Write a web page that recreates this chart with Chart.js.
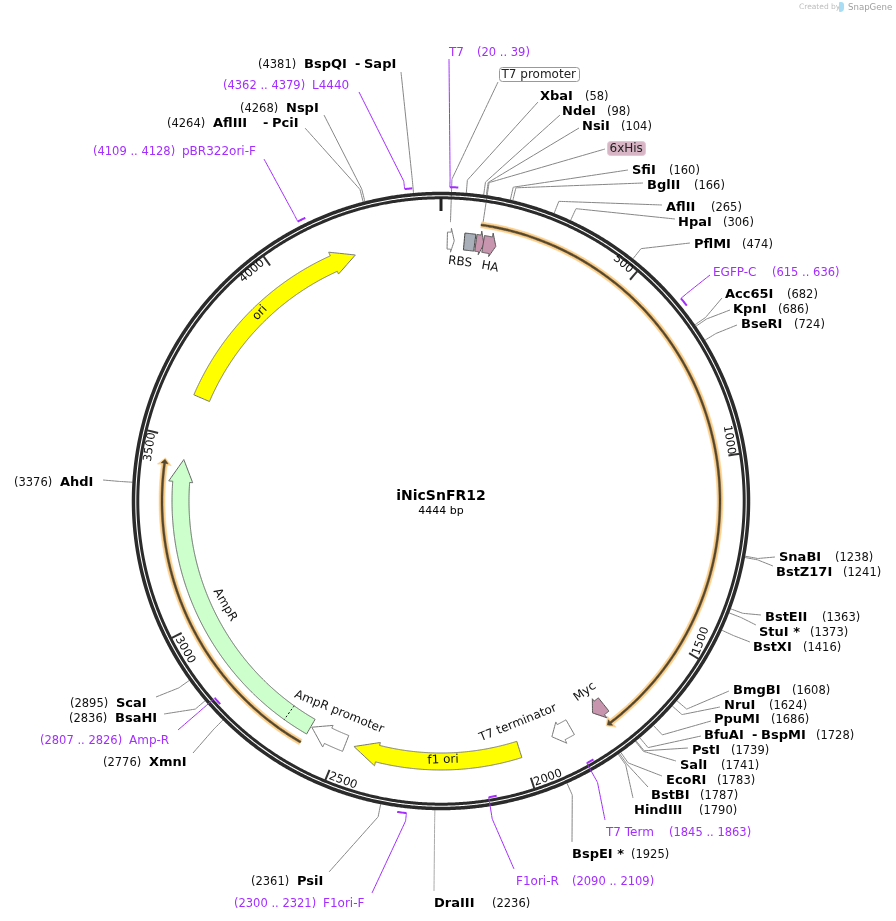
<!DOCTYPE html>
<html>
<head>
<meta charset="utf-8">
<title>iNicSnFR12</title>
<script src="https://cdn.jsdelivr.net/npm/chart.js@4"></script>
<style>
  html, body { margin: 0; background: #fff; }
  #wrap { position: relative; width: 896px; height: 921px; }
  #logo { position: absolute; left: 839px; top: 2px; width: 5px; height: 10px; background: #a9dcf5; border-radius: 1px 3px 4px 1px; }
</style>
</head>
<body>
<div id="wrap">
  <canvas id="map" width="896" height="921"></canvas>
  <div id="logo"></div>
</div>
<script>
// plasmid
const plasmidName = 'iNicSnFR12';
const plasmidLength = 4444;
const tickValues = [500, 1000, 1500, 2000, 2500, 3000, 3500, 4000];

// restriction sites
const siteNames = ['BspQI', 'NspI', 'AflIII', 'XbaI', 'NdeI', 'NsiI', 'SfiI', 'BglII', 'AflII', 'HpaI', 'PflMI',
  'Acc65I', 'KpnI', 'BseRI', 'SnaBI', 'BstZ17I', 'BstEII', 'StuI *', 'BstXI', 'BmgBI', 'NruI', 'PpuMI', 'BfuAI',
  'PstI', 'SalI', 'EcoRI', 'BstBI', 'HindIII', 'BspEI *', 'DraIII', 'PsiI', 'XmnI', 'BsaHI', 'ScaI', 'AhdI'];
const sitePositions = [4381, 4268, 4264, 58, 98, 104, 160, 166, 265, 306, 474,
  682, 686, 724, 1238, 1241, 1363, 1373, 1416, 1608, 1624, 1686, 1728,
  1739, 1741, 1783, 1787, 1790, 1925, 2236, 2361, 2776, 2836, 2895, 3376];

// primers
const primerNames = ['T7', 'EGFP-C', 'T7 Term', 'F1ori-R', 'F1ori-F', 'Amp-R', 'pBR322ori-F', 'L4440'];
const primerStarts = [20, 615, 1845, 2090, 2300, 2807, 4109, 4362];
const primerEnds = [39, 636, 1863, 2109, 2321, 2826, 4128, 4379];
const primerReverse = [false, false, true, true, false, true, false, false];

// features (all run clockwise)
const featureNames = ['RBS', 'lac', '6xHis', 'HA', 'Myc', 'T7 terminator', 'f1 ori', 'AmpR promoter', 'AmpR', 'ori'];
const featureStarts = [17, 63, 95, 115, 1745, 1855, 2006, 2487, 2592, 3620];
const featureHeads = [27, 92, 106, 136, 1760, 1883, 2396, 2539, 3385, 4144];
const featureEnds = [36, 92, 117, 150, 1783, 1911, 2463, 2589, 3446, 4207];
const ampSignalEnd = 2662;

// open reading frames
const orfStarts = [102, 2595];
const orfEnds = [1774, 3443];

// layout, in page pixels
const cx = 441, cy = 501;
const featureFills = ['#ffffff', '#a9afb8', '#c795ad', '#c795ad', '#c795ad', '#ffffff', '#ffff00', '#ffffff', '#ccffcc', '#ffff00'];
const featureEdges = ['#777', '#444', '#555', '#555', '#555', '#777', '#777', '#777', '#666', '#777'];

const siteNameX = [304, 286, 213, 540, 562, 582, 632, 647, 666, 678, 694, 725, 733, 741, 779, 776, 765, 759, 753, 733, 724, 714, 704, 692, 680, 666, 651, 634, 572, 434, 297, 149, 115, 116, 60];
const siteNameY = [64, 108, 123, 96, 111, 126, 170, 185, 207, 222, 244, 294, 309, 324, 557, 572, 617, 632, 647, 690, 705, 719, 735, 750, 765, 780, 795, 810, 854, 903, 881, 762, 718, 703, 482];
const siteNumberX = [258, 240, 167, 585, 607, 621, 669, 694, 711, 723, 742, 787, 778, 794, 835, 843, 822, 810, 803, 792, 769, 771, 816, 731, 721, 717, 700, 699, 631, 492, 251, 103, 69, 70, 14];
const leaderEndX = [401, 324, 305, 538, 560, 579, 628, 643, 662, 675, 690, 722, 730, 737, 775, 773, 761, 756, 750, 729, 720, 711, 701, 688, 676, 662, 648, 633, 572, 434, 329, 193, 164, 156, 103];
const leaderEndY = [72, 115, 128, 102, 115, 128, 170, 183, 205, 219, 243, 298, 310, 325, 557, 566, 615, 625, 642, 691, 707, 721, 736, 748, 761, 776, 787, 798, 842, 891, 872, 753, 714, 697, 480];

const primerNameX = [449, 713, 606, 516, 323, 129, 182, 312];
const primerNameY = [52, 272, 832, 881, 903, 740, 151, 85];
const primerRangeX = [477, 772, 669, 572, 234, 40, 93, 223];
const primerEndX = [449, 710, 605, 514, 372, 178, 264, 359];
const primerEndY = [59, 275, 820, 869, 893, 730, 159, 92];

const PURPLE = '#a32eff', GREY = '#868686', RING = '#2b2b2b';

// bp on the circle -> data coordinates
function polar(bp, r) {
  const a = bp / plasmidLength * 2 * Math.PI;
  return { x: cx + r * Math.sin(a), y: cy - r * Math.cos(a) };
}

function arc(from, to, r) {
  const pts = [];
  const dir = to >= from ? 1 : -1;
  for (let bp = from; dir * (to - bp) > 0; bp += dir * 6) pts.push(polar(bp, r));
  pts.push(polar(to, r));
  return pts;
}

// arrow outline: shaft between rIn..rOut, head between headIn..headOut
function arrowShape(start, head, end, rIn, rOut, headIn, headOut) {
  const mid = (rIn + rOut) / 2;
  const pts = arc(start, head, rOut);
  if (end > head) {
    pts.push(polar(head, headOut), polar(end, mid), polar(head, headIn));
  }
  pts.push(...arc(head, start, rIn));
  pts.push(pts[0]);
  return pts;
}

// tiny tension keeps chart.js off its fast path, which flattens near-vertical runs
function lineSet(data, color, width, extra) {
  return Object.assign({ data, showLine: true, fill: false, borderColor: color, borderWidth: width, pointRadius: 0, tension: 0.0001, clip: false }, extra || {});
}

function shapeSet(data, fillColor, edge, width) {
  return lineSet(data, edge, width, { fill: 'shape', backgroundColor: fillColor });
}

const paint = [];   // datasets in painting order, reversed below

// leaders
siteNames.forEach((n, i) => {
  paint.push(lineSet([polar(sitePositions[i], 309), polar(sitePositions[i], 322), { x: leaderEndX[i], y: leaderEndY[i] }], n === 'DraIII' ? '#aaa' : GREY, 1));
});
paint.push(lineSet([{ x: 498, y: 82 }, polar(24, 322), polar(24, 279)], GREY, 1));
paint.push(lineSet([{ x: 605, y: 149 }, polar(106, 322), polar(106, 279)], GREY, 1));

// ring
paint.push(lineSet(arc(0, plasmidLength, 307.5), RING, 3.5));
paint.push(lineSet(arc(0, plasmidLength, 303.2), RING, 3));
paint.push(lineSet([polar(0, 290), polar(0, 304)], '#222', 3));
tickValues.forEach(t => paint.push(lineSet([polar(t, 291), polar(t, 303)], '#333', 2)));

// primers
primerNames.forEach((n, i) => {
  const rev = primerReverse[i];
  const r = rev ? 300 : 314;
  const anchor = rev ? primerEnds[i] : primerStarts[i];
  paint.push(lineSet([polar(anchor, r), polar(anchor, 322), { x: primerEndX[i], y: primerEndY[i] }], PURPLE, 1));
  paint.push(lineSet(arc(primerStarts[i], primerEnds[i], r), PURPLE, 2));
});

// open reading frames
orfStarts.forEach((s, i) => {
  paint.push(shapeSet(arrowShape(s, orfEnds[i] - 18, orfEnds[i], 276, 282, 272, 286), '#fcd08c', '#fcd08c', 0.5));
  paint.push(shapeSet(arrowShape(s, orfEnds[i] - 14, orfEnds[i] - 4, 278, 280, 275.5, 282.5), '#54472f', '#54472f', 0.5));
});

// features
featureNames.forEach((n, i) => {
  paint.push(shapeSet(arrowShape(featureStarts[i], featureHeads[i], featureEnds[i], 252, 269, 249, 273), featureFills[i], featureEdges[i], 1));
});
paint.push(lineSet([polar(ampSignalEnd, 252), polar(ampSignalEnd, 269)], '#111', 1, { borderDash: [2, 2] }));

// all the text, drawn on top through the scales
const labels = [];
function label(str, x, y, font, color, rot, align) {
  labels.push({ str, x, y, font, color: color || '#000', rot: rot || 0, align: align || 'left' });
}
const BOLD = 'bold 13px "DejaVu Sans"', NUM = '11.5px "DejaVu Sans"', REG = '12px "DejaVu Sans"';

siteNames.forEach((n, i) => {
  label(n, siteNameX[i], siteNameY[i] + 1, BOLD);
  label('(' + sitePositions[i] + ')', siteNumberX[i], siteNameY[i] + 1, NUM, '#111');
});
label('-', 355, 65, BOLD); label('SapI', 364, 65, BOLD);
label('-', 263, 124, BOLD); label('PciI', 272, 124, BOLD);
label('-', 752, 736, BOLD); label('BspMI', 761, 736, BOLD);

primerNames.forEach((n, i) => {
  label(n, primerNameX[i], primerNameY[i] + 1, REG, PURPLE);
  label('(' + primerStarts[i] + ' .. ' + primerEnds[i] + ')', primerRangeX[i], primerNameY[i] + 1, NUM, PURPLE);
});

const tickX = [623, 729, 701, 548, 343, 185, 150, 252];
const tickY = [264, 440, 641, 778, 781, 650, 447, 271];
const tickRot = [40, 81, -70, -20, 20, 61, -81, -41];
tickValues.forEach((t, i) => label(String(t), tickX[i], tickY[i], NUM, '#111', tickRot[i], 'center'));

label('RBS', 460, 262, REG, '#111', 7, 'center');
label('HA', 490, 267, REG, '#111', 10, 'center');
label('Myc', 585, 692, REG, '#111', -36, 'center');
label('T7 terminator', 518, 723, REG, '#111', -22, 'center');
label('f1 ori', 443, 760, REG, '#111', -2, 'center');
label('AmpR promoter', 339, 712, REG, '#111', 22, 'center');
label('AmpR', 225, 605, REG, '#111', 60, 'center');
label('ori', 260, 313, REG, '#111', -47, 'center');

label(plasmidName, cx, 496, 'bold 14px "DejaVu Sans"', '#000', 0, 'center');
label('4444 bp', cx, 511, '11px "DejaVu Sans"', '#000', 0, 'center');

label('Created by', 799, 7.5, '7.5px "DejaVu Sans"', '#bdbdbd');
label('SnapGene', 848, 7.5, '8.6px "DejaVu Sans"', '#9f9f9f');

const boxes = [
  { str: 'T7 promoter', x: 499, y: 67, w: 80, h: 14, fill: '#fff', edge: '#999' },
  { str: '6xHis', x: 607, y: 141, w: 38, h: 14, fill: '#d8b5c5', edge: '#e3c8d4' }
];

const textPlugin = {
  id: 'mapText',
  afterDatasetsDraw(chart) {
    const { ctx, scales: { x, y } } = chart;
    ctx.save();
    ctx.textBaseline = 'middle';
    boxes.forEach(b => {
      const px = x.getPixelForValue(b.x), py = y.getPixelForValue(b.y);
      ctx.beginPath();
      ctx.roundRect(px + 0.5, py + 0.5, b.w, b.h, 3);
      ctx.fillStyle = b.fill;
      ctx.strokeStyle = b.edge;
      ctx.lineWidth = 1;
      ctx.fill();
      ctx.stroke();
      ctx.fillStyle = '#222';
      ctx.font = REG;
      ctx.textAlign = 'left';
      ctx.fillText(b.str, px + 2.5, py + 7.5);
    });
    labels.forEach(l => {
      ctx.save();
      ctx.translate(x.getPixelForValue(l.x), y.getPixelForValue(l.y));
      ctx.rotate(l.rot * Math.PI / 180);
      ctx.font = l.font;
      ctx.fillStyle = l.color;
      ctx.textAlign = l.align;
      ctx.fillText(l.str, 0, 0);
      ctx.restore();
    });
    ctx.restore();
  }
};

new Chart(document.getElementById('map'), {
  type: 'scatter',
  data: { datasets: paint.slice().reverse() },
  options: {
    responsive: false,
    animation: false,
    devicePixelRatio: 1,
    layout: { padding: 0 },
    events: [],
    plugins: { legend: { display: false }, tooltip: { enabled: false }, title: { display: false } },
    scales: {
      x: { type: 'linear', min: 0, max: 896, display: false },
      y: { type: 'linear', min: 0, max: 921, reverse: true, display: false }
    }
  },
  plugins: [textPlugin]
});
</script>
</body>
</html>
